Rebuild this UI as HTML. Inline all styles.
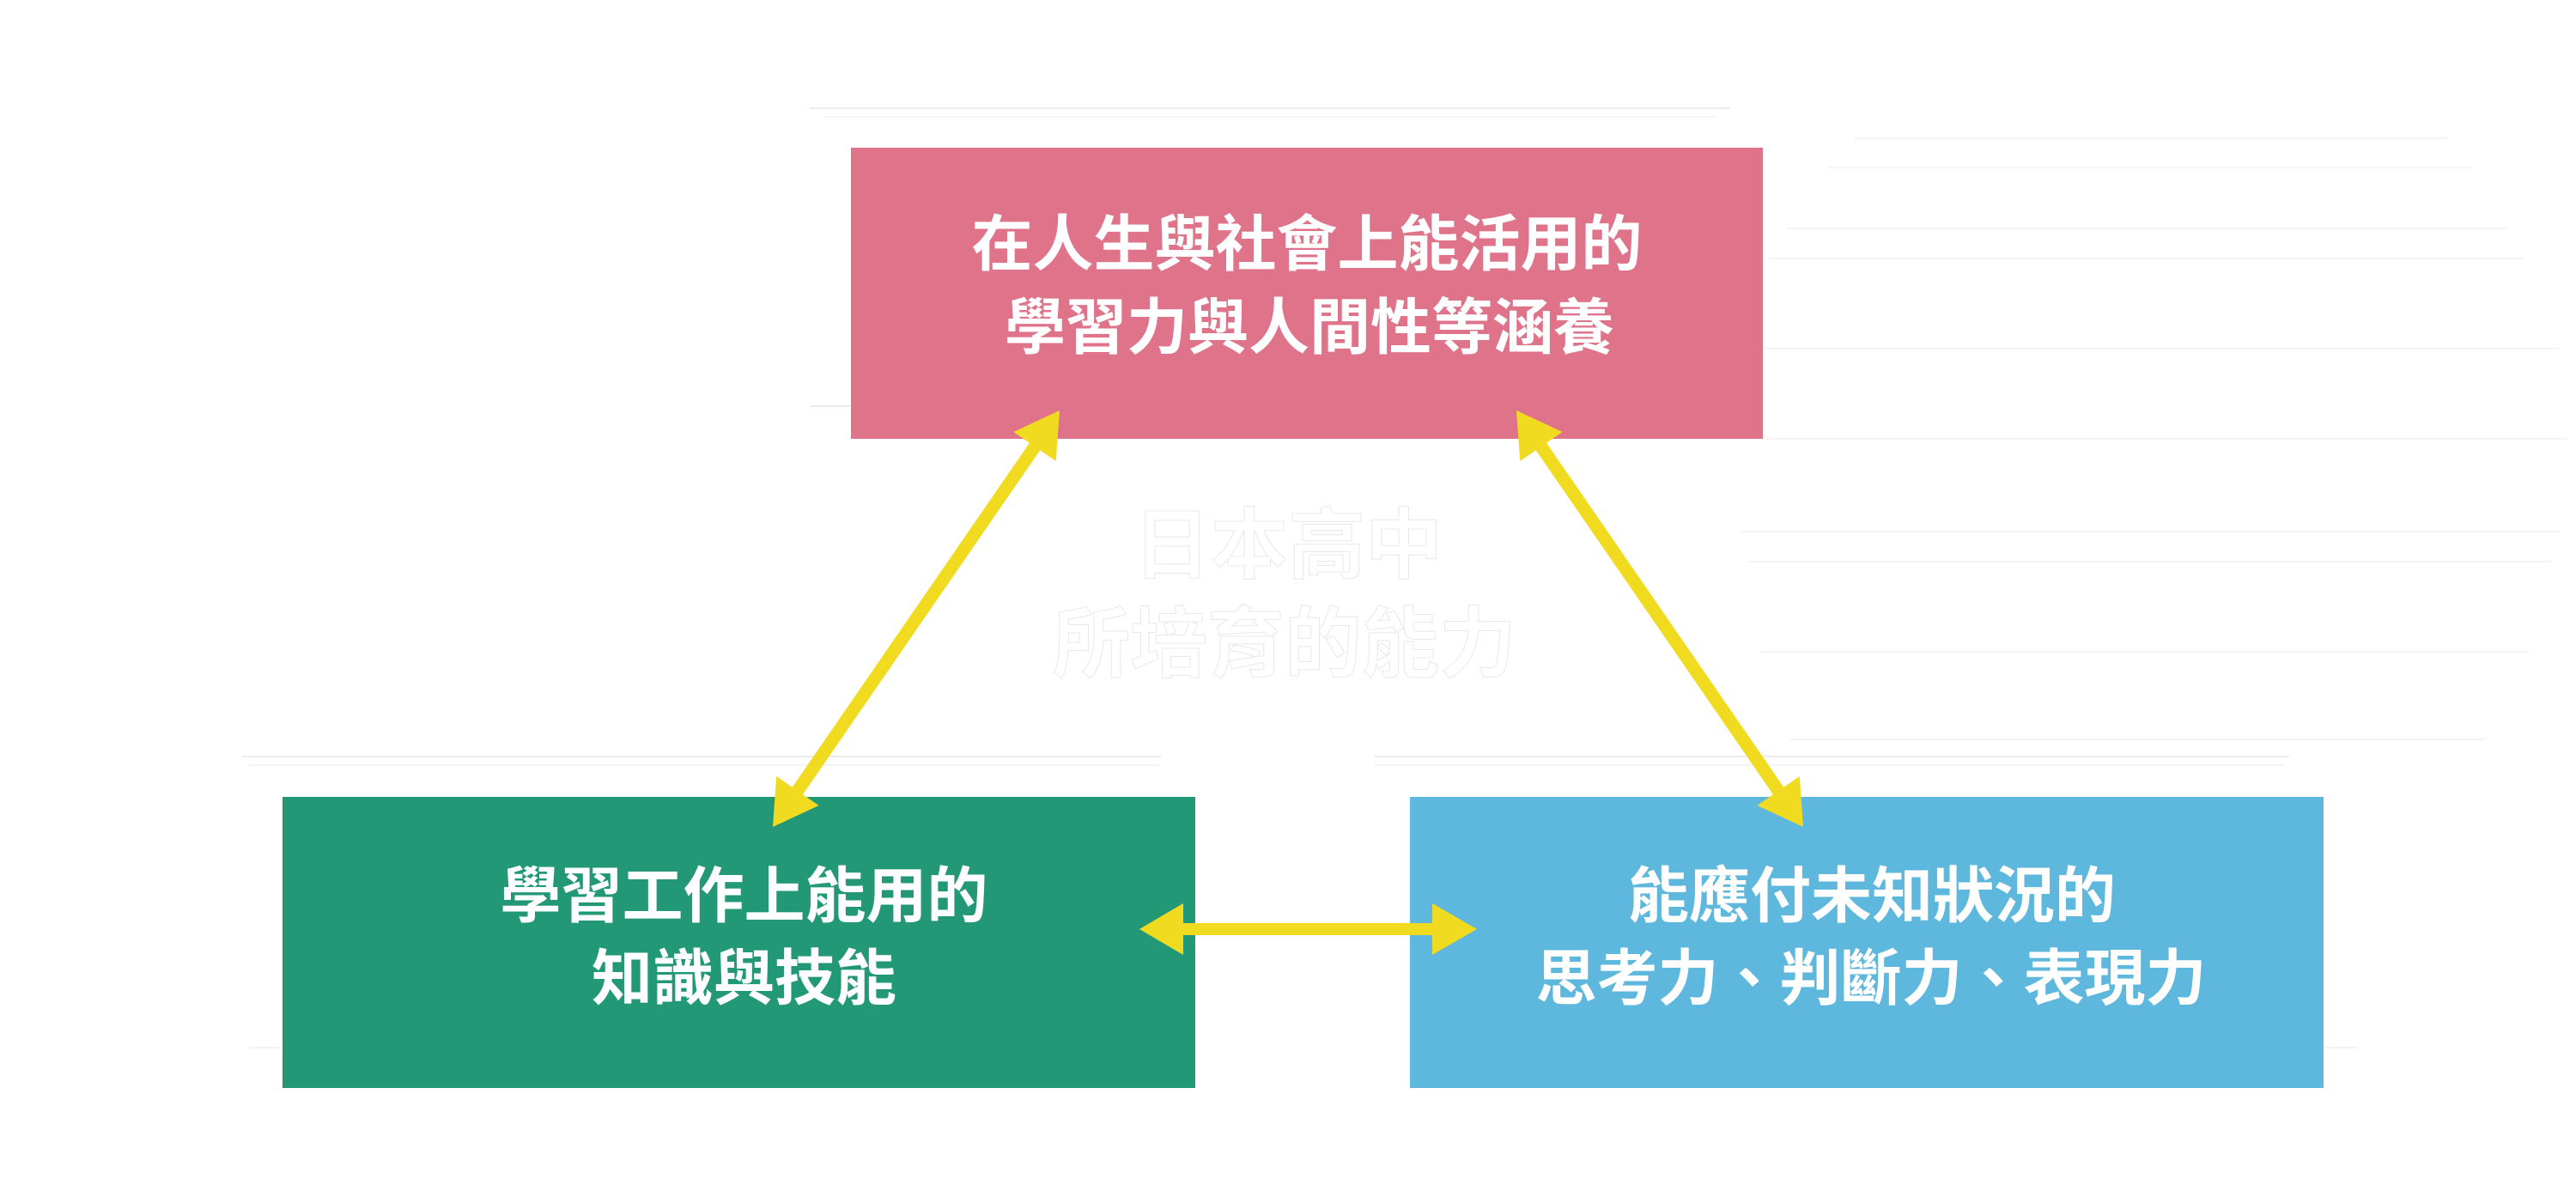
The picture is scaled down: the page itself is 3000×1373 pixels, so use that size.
<!DOCTYPE html>
<html>
<head>
<meta charset="utf-8">
<style>
  html, body { margin:0; padding:0; }
  body { width:3000px; height:1373px; background:#ffffff; position:relative; overflow:hidden;
         font-family:"Liberation Sans","Noto Sans CJK TC","Noto Sans CJK JP",sans-serif; }
  .box { position:absolute; }
  .line { position:absolute; left:0; width:100%; text-align:center; white-space:nowrap;
          color:#ffffff; font-weight:700; font-size:71px; line-height:71px;
          font-family:"Liberation Sans","Noto Sans CJK TC","Noto Sans CJK JP",sans-serif; }
  .center { position:absolute; left:1000px; width:1000px; text-align:center; white-space:nowrap;
            color:#ffffff; font-weight:700; font-size:90px; line-height:90px;
            -webkit-text-stroke:1px #e8e8e8;
            font-family:"Liberation Sans","Noto Sans CJK TC","Noto Sans CJK JP",sans-serif; }
  .fl { position:absolute; height:2px; background:#ececec; }
  .fl2 { position:absolute; height:2px; background:#f4f4f4; }
</style>
</head>
<body>

<!-- faint background lines -->
<div class="fl" style="left:943px; top:125px; width:1072px;"></div>
<div class="fl2" style="left:960px; top:135px; width:1040px;"></div>
<div class="fl" style="left:943px; top:472px; width:48px;"></div>
<div class="fl" style="left:282px; top:880px; width:1070px;"></div>
<div class="fl2" style="left:290px; top:890px; width:1060px;"></div>
<div class="fl" style="left:1600px; top:880px; width:1066px;"></div>
<div class="fl2" style="left:1600px; top:890px; width:1060px;"></div>
<div class="fl2" style="left:2160px; top:160px; width:690px;"></div>
<div class="fl2" style="left:2130px; top:194px; width:750px;"></div>
<div class="fl2" style="left:2080px; top:265px; width:840px;"></div>
<div class="fl2" style="left:2060px; top:300px; width:880px;"></div>
<div class="fl2" style="left:2055px; top:405px; width:925px;"></div>
<div class="fl2" style="left:2055px; top:510px; width:935px;"></div>
<div class="fl2" style="left:2025px; top:618px; width:955px;"></div>
<div class="fl2" style="left:2035px; top:653px; width:935px;"></div>
<div class="fl2" style="left:2050px; top:758px; width:895px;"></div>
<div class="fl2" style="left:2085px; top:860px; width:810px;"></div>
<div class="fl2" style="left:290px; top:1219px; width:40px;"></div>
<div class="fl2" style="left:2706px; top:1219px; width:40px;"></div>

<!-- pink box -->
<div class="box" style="left:991px; top:172px; width:1062px; height:339px; background:#DE738A;">
  <div class="line" style="top:78px;">在人生與社會上能活用的</div>
  <div class="line" style="top:175px; padding-left:6px; box-sizing:border-box;">學習力與人間性等涵養</div>
</div>

<!-- green box -->
<div class="box" style="left:329px; top:928px; width:1063px; height:339px; background:#229876;">
  <div class="line" style="top:81px; padding-left:12px; box-sizing:border-box;">學習工作上能用的</div>
  <div class="line" style="top:177px; padding-left:12px; box-sizing:border-box;">知識與技能</div>
</div>

<!-- blue box -->
<div class="box" style="left:1642px; top:928px; width:1064px; height:339px; background:#5EB7DC;">
  <div class="line" style="top:81px; padding-left:12px; box-sizing:border-box;">能應付未知狀況的</div>
  <div class="line" style="top:177px; padding-left:10px; box-sizing:border-box;">思考力、判斷力、表現力</div>
</div>

<!-- center (white) text -->
<div class="center" style="top:591px;">日本高中</div>
<div class="center" style="top:706px; left:996px;">所培育的能力</div>

<!-- arrows -->
<svg width="3000" height="1373" style="position:absolute; left:0; top:0;" xmlns="http://www.w3.org/2000/svg">
  <g fill="#F1DB21" stroke="none">
    <!-- left diagonal -->
    <line x1="1210" y1="513" x2="924" y2="928" stroke="#F1DB21" stroke-width="15"/>
    <polygon points="1234,478 1229.8,537 1180.4,503"/>
    <polygon points="900,963 953.6,938 904.2,904"/>
    <!-- right diagonal -->
    <line x1="1790" y1="513" x2="2076" y2="928" stroke="#F1DB21" stroke-width="15"/>
    <polygon points="1766,478 1819.6,503 1770.2,537"/>
    <polygon points="2100,963 2095.8,904 2046.4,938"/>
    <!-- horizontal -->
    <rect x="1370" y="1075" width="306" height="14"/>
    <polygon points="1327,1082 1378,1052 1378,1112"/>
    <polygon points="1720,1082 1668,1052 1668,1112"/>
  </g>
</svg>

</body>
</html>
